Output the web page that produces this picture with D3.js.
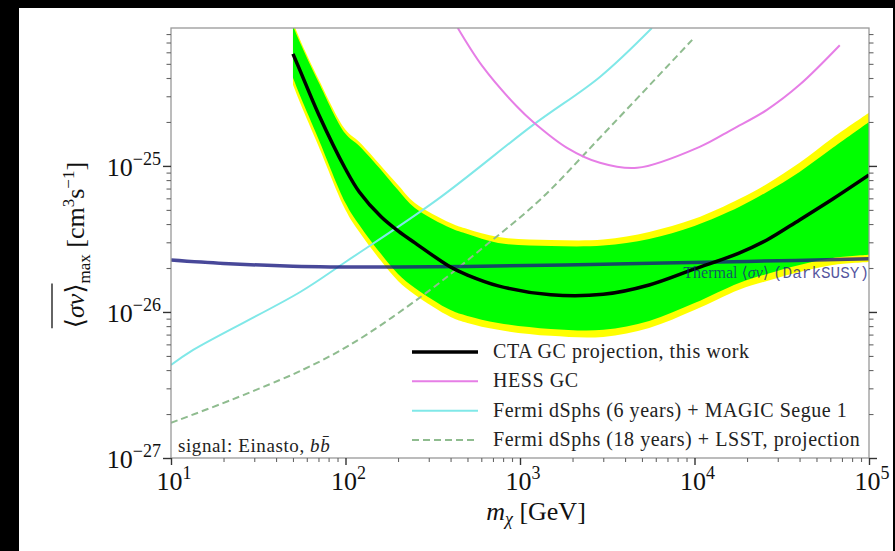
<!DOCTYPE html>
<html>
<head>
<meta charset="utf-8">
<script src="https://cdn.jsdelivr.net/npm/d3@7"></script>
<style>
  body { margin: 0; background: #000; }
  svg { display: block; }
  text { font-family: "Liberation Serif", "DejaVu Serif", serif; }
</style>
</head>
<body>
<svg id="chart" width="895" height="551"></svg>
<script>
// ---- data (GeV, cm^3 s^-1) ----
const bandMass = [50, 55, 70, 100, 120, 160, 200, 250, 400, 500, 750, 1500, 3000, 5500, 10000, 18000, 26000, 40000, 62000, 100000];
const ctaMedian = [5.85e-25, 4.48e-25, 2.27e-25, 9.53e-26, 6.63e-26, 4.48e-26, 3.59e-26, 2.97e-26, 2.03e-26, 1.79e-26, 1.51e-26, 1.31e-26, 1.32e-26, 1.53e-26, 1.97e-26, 2.53e-26, 3.11e-26, 4.27e-26, 5.94e-26, 8.68e-26];
const sigma1Hi = [9.1e-25, 6.95e-25, 3.76e-25, 1.66e-25, 1.37e-25, 9.39e-26, 6.85e-26, 5.16e-26, 3.76e-26, 3.42e-26, 2.97e-26, 2.83e-26, 2.85e-26, 3.16e-26, 3.88e-26, 5.23e-26, 6.64e-26, 9.1e-26, 1.33e-25, 2.0e-25];
const sigma1Lo = [4.01e-25, 3.01e-25, 1.53e-25, 5.58e-26, 3.94e-26, 2.49e-26, 1.82e-26, 1.46e-26, 1.03e-26, 9.39e-27, 8.41e-27, 7.65e-27, 7.54e-27, 8.68e-27, 1.15e-26, 1.58e-26, 1.82e-26, 2.10e-26, 2.34e-26, 2.46e-26];
const sigma2Hi = [9.69e-25, 7.29e-25, 3.94e-25, 1.77e-25, 1.46e-25, 1.0e-25, 7.41e-26, 5.58e-26, 4.07e-26, 3.70e-26, 3.26e-26, 3.11e-26, 3.13e-26, 3.53e-26, 4.34e-26, 5.94e-26, 7.53e-26, 1.05e-25, 1.56e-25, 2.31e-25];
const sigma2Lo = [3.59e-25, 2.70e-25, 1.37e-25, 5.0e-26, 3.53e-26, 2.23e-26, 1.63e-26, 1.31e-26, 9.24e-27, 8.41e-27, 7.54e-27, 6.86e-27, 6.75e-27, 7.77e-27, 1.03e-26, 1.42e-26, 1.63e-26, 1.88e-26, 2.10e-26, 2.20e-26];

const hessMass = [440, 610, 960, 1190, 1860, 2870, 4700, 10700, 16600, 26000, 40000, 68000];
const hessLimit = [8.8e-25, 4.8e-25, 2.55e-25, 2.0e-25, 1.33e-25, 1.05e-25, 9.7e-26, 1.35e-25, 1.79e-25, 2.42e-25, 3.59e-25, 6.7e-25];

const fermi6Mass = [10, 13.4, 55, 100, 334, 1190, 2870, 5700];
const fermi6Limit = [4.33e-27, 5.5e-27, 1.37e-26, 2.2e-26, 5.85e-26, 1.91e-25, 4.07e-25, 8.8e-25];

const fermi18Mass = [10, 22, 42, 55, 106, 280, 610, 1300, 2870, 9700];
const fermi18Limit = [1.74e-27, 2.49e-27, 3.42e-27, 3.94e-27, 5.94e-27, 1.31e-26, 2.74e-26, 5.85e-26, 1.56e-25, 7.3e-25];

const thermalMass = [10, 20, 50, 150, 500, 3000, 20000, 100000];
const thermalXsec = [2.27e-26, 2.15e-26, 2.06e-26, 2.03e-26, 2.05e-26, 2.12e-26, 2.22e-26, 2.31e-26];

const xTickExp = [1, 2, 3, 4, 5];
const yTickExp = [-27, -26, -25];

const legendLabels = [
  "CTA GC projection, this work",
  "HESS GC",
  "Fermi dSphs (6 years) + MAGIC Segue 1",
  "Fermi dSphs (18 years) + LSST, projection"
];

// ---- layout ----
const W = 895, H = 551;
const plotL = 171, plotR = 869, plotT = 28, plotB = 458;

const svg = d3.select("#chart");
svg.append("rect").attr("width", W).attr("height", H).attr("fill", "#000");
svg.append("rect").attr("x", 19).attr("y", 8).attr("width", 874).attr("height", H - 8).attr("fill", "#fff");

const x = d3.scaleLog().domain([10, 1e5]).range([plotL, plotR]);
const y = d3.scaleLog().domain([1e-27, 8.8e-25]).range([plotB, plotT]);

svg.append("clipPath").attr("id", "plotclip")
  .append("rect").attr("x", plotL).attr("y", plotT).attr("width", plotR - plotL).attr("height", plotB - plotT);

const plot = svg.append("g").attr("clip-path", "url(#plotclip)");

const smooth = d3.curveCatmullRom.alpha(0.5);
const line = d3.line().x(d => x(d[0])).y(d => y(d[1])).curve(smooth);
const area = d3.area().x(d => x(d[0])).y0(d => y(d[1])).y1(d => y(d[2])).curve(smooth);

plot.append("path")
  .attr("d", area(d3.zip(bandMass, sigma2Lo, sigma2Hi)))
  .attr("fill", "#ffff00");
plot.append("path")
  .attr("d", area(d3.zip(bandMass, sigma1Lo, sigma1Hi)))
  .attr("fill", "#00ff00");

plot.append("path")
  .attr("d", line(d3.zip(fermi6Mass, fermi6Limit)))
  .attr("fill", "none").attr("stroke", "#80e8e8").attr("stroke-width", 2);
plot.append("path")
  .attr("d", line(d3.zip(fermi18Mass, fermi18Limit)))
  .attr("fill", "none").attr("stroke", "#8fbc8f").attr("stroke-width", 2)
  .attr("stroke-dasharray", "7,4");
plot.append("path")
  .attr("d", line(d3.zip(hessMass, hessLimit)))
  .attr("fill", "none").attr("stroke", "#e67ee6").attr("stroke-width", 2);
plot.append("path")
  .attr("d", line(d3.zip(thermalMass, thermalXsec)))
  .attr("fill", "none").attr("stroke", "#1a1a80").attr("stroke-opacity", 0.8).attr("stroke-width", 3.5);
plot.append("path")
  .attr("d", line(d3.zip(bandMass, ctaMedian)))
  .attr("fill", "none").attr("stroke", "#000").attr("stroke-width", 3.5);

// thermal annotation
const thermal = svg.append("text")
  .attr("x", plotR).attr("y", 278)
  .attr("text-anchor", "end")
  .attr("font-size", 16)
  .attr("fill", "#1a1a80").attr("fill-opacity", 0.75);
thermal.append("tspan").text("Thermal ⟨");
thermal.append("tspan").attr("font-style", "italic").text("σv");
thermal.append("tspan").text("⟩ ");
thermal.append("tspan").style("font-family", "'Liberation Mono', 'DejaVu Sans Mono', monospace").text("(DarkSUSY)");

// frame
svg.append("rect")
  .attr("x", plotL).attr("y", plotT).attr("width", plotR - plotL).attr("height", plotB - plotT)
  .attr("fill", "none").attr("stroke", "#999").attr("stroke-width", 1.3);

// ticks
const isMajor = d => Math.abs(Math.log10(d) - Math.round(Math.log10(d))) < 1e-6;
const xMinor = x.ticks().filter(d => !isMajor(d));
const xMajor = x.ticks().filter(isMajor);
const yMinor = y.ticks().filter(d => !isMajor(d));
const yMajor = y.ticks().filter(isMajor);

const drawAxis = (axis, tx, size, vals, col, sw) => {
  const g = svg.append("g").attr("transform", tx)
    .call(axis.tickValues(vals).tickSize(size).tickFormat(""));
  g.select(".domain").remove();
  g.selectAll(".tick line").attr("stroke", col).attr("stroke-width", sw);
};
drawAxis(d3.axisBottom(x), `translate(0,${plotB})`, 4, xMinor, "#666", 1.1);
drawAxis(d3.axisBottom(x), `translate(0,${plotB})`, 7, xMajor, "#333", 1.4);
drawAxis(d3.axisLeft(y), `translate(${plotL},0)`, 4.5, yMinor, "#666", 1.1);
drawAxis(d3.axisLeft(y), `translate(${plotL},0)`, 8, yMajor, "#333", 1.4);
drawAxis(d3.axisRight(y), `translate(${plotR},0)`, 4.5, yMinor, "#666", 1.1);
drawAxis(d3.axisRight(y), `translate(${plotR},0)`, 8, yMajor, "#333", 1.4);

// tick labels
const powLabel = (t, e) => {
  t.append("tspan").text("10");
  t.append("tspan").attr("dy", -11).attr("font-size", 18).text(String(e).replace("-", "−"));
};
xTickExp.forEach(e => {
  const t = svg.append("text")
    .attr("x", x(Math.pow(10, e)) + 3).attr("y", 490)
    .attr("text-anchor", "middle").attr("font-size", 26).attr("fill", "#111");
  powLabel(t, e);
});
yTickExp.forEach(e => {
  const t = svg.append("text")
    .attr("x", 161).attr("y", y(Math.pow(10, e)) + 10)
    .attr("text-anchor", "end").attr("font-size", 26).attr("fill", "#111");
  powLabel(t, e);
});

// x label
const xl = svg.append("text").attr("x", 536).attr("y", 520)
  .attr("text-anchor", "middle").attr("font-size", 26).attr("fill", "#111");
xl.append("tspan").attr("font-style", "italic").text("m");
xl.append("tspan").attr("font-style", "italic").attr("font-size", 18).attr("dy", 5).text("χ");
xl.append("tspan").attr("dy", -5).text("  [GeV]");

// y label (rotated)
const yg = svg.append("g").attr("transform", "translate(84,245) rotate(-90)");
const ylab = yg.append("text").attr("font-size", 26).attr("fill", "#111");
ylab.append("tspan").text("⟨");
ylab.append("tspan").attr("font-style", "italic").text("σv");
ylab.append("tspan").text("⟩");
ylab.append("tspan").attr("font-size", 17).attr("dy", 6).text("max");
ylab.append("tspan").attr("dy", -6).text("   [cm");
ylab.append("tspan").attr("font-size", 17).attr("dy", -10).text("3");
ylab.append("tspan").attr("dy", 10).text("s");
ylab.append("tspan").attr("font-size", 17).attr("dy", -10).text("−1");
ylab.append("tspan").attr("dy", 10).text("]");
const ylNode = ylab.node();
const ylW = ylNode.getComputedTextLength();
ylab.attr("x", -ylW / 2);
const barW = ylNode.getSubStringLength(0, 4);
yg.append("line")
  .attr("x1", -ylW / 2).attr("x2", -ylW / 2 + barW)
  .attr("y1", -32).attr("y2", -32)
  .attr("stroke", "#111").attr("stroke-width", 1.3);

// signal note
const note = svg.append("text").attr("x", 178).attr("y", 452)
  .attr("font-size", 19).attr("letter-spacing", 0.6).attr("fill", "#222");
note.append("tspan").text("signal: Einasto, ");
note.append("tspan").attr("font-style", "italic").text("bb\u0304");

// legend
const legStyles = [
  { stroke: "#000", width: 3.5, dash: null },
  { stroke: "#e67ee6", width: 2, dash: null },
  { stroke: "#80e8e8", width: 2, dash: null },
  { stroke: "#8fbc8f", width: 2, dash: "7,4" }
];
const legY = d3.scaleLinear().domain([0, 3]).range([352, 440]);
const leg = svg.append("g").selectAll("g").data(legendLabels).enter().append("g")
  .attr("transform", (d, i) => `translate(0,${legY(i)})`);
leg.append("line")
  .attr("x1", 412).attr("x2", 478)
  .attr("stroke", (d, i) => legStyles[i].stroke)
  .attr("stroke-width", (d, i) => legStyles[i].width)
  .attr("stroke-dasharray", (d, i) => legStyles[i].dash);
leg.append("text")
  .attr("x", 493).attr("y", 6)
  .attr("font-size", 20).attr("letter-spacing", 0.55).attr("fill", "#222")
  .text(d => d);
</script>
</body>
</html>
